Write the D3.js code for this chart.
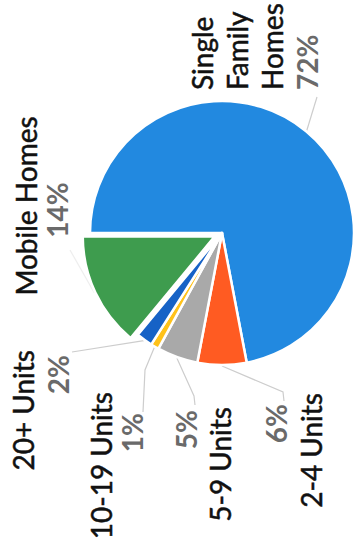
<!DOCTYPE html>
<html>
<head>
<meta charset="utf-8">
<script src="https://cdn.jsdelivr.net/npm/d3@7/dist/d3.min.js"></script>
<style>
  body { margin: 0; background: #fff; }
  svg { display: block; }
  .name { font-family: Lato, "Open Sans", sans-serif; font-size: 28px; fill: #111; stroke: #111; stroke-width: 0.5px; }
  .pct { font-family: Lato, "Open Sans", sans-serif; font-size: 28px; font-weight: bold; fill: #6a6a6a; }
</style>
</head>
<body>
<svg id="chart" width="359" height="539"></svg>
<script>
// housing types (pie order, clockwise from the left edge)
var categories = ["Single Family Homes", "2-4 Units", "5-9 Units", "10-19 Units", "20+ Units", "Mobile Homes"];
var shares = [72, 6, 5, 1, 2, 14];
var pctLabels = ["72%", "6%", "5%", "1%", "2%", "14%"];
var nameLines = [["Single", "Family", "Homes"], ["2-4 Units"], ["5-9 Units"], ["10-19 Units"], ["20+ Units"], ["Mobile Homes"]];
var pctFirst = [false, true, true, false, false, false];

var colors = ["#2289e0", "#ff5b22", "#a9a9a9", "#ffc21a", "#1662c6", "#3e9c4e"];
var exploded = [0, 0, 0, 0, 0, 8];

// chart is drawn turned a quarter turn, labels read bottom to top
var cx = 222, cy = 233, radius = 132;

// label layout: baseline x of each line, anchor y of each line
var labelLayout = [
  {anchor: "start", xs: [213, 248, 283, 318], ys: [90, 90, 90, 90], leader: [[317, 97]]},
  {anchor: "end", xs: [287, 322], ys: [404, 393], leader: [[283, 392], [284, 401]]},
  {anchor: "end", xs: [197, 231], ys: [410, 407], leader: [[194, 396], [195, 405]]},
  {anchor: "end", xs: [112, 143], ys: [392, 413], leader: [[145, 370], [143, 412]]},
  {anchor: "end", xs: [34, 69], ys: [350, 355], leader: [[72, 352]]},
  {anchor: "middle", xs: [37, 68], ys: [206, 210], leader: [[70, 250]]}
];

var svg = d3.select("#chart");

var pie = d3.pie()
    .sort(null)
    .startAngle(-Math.PI / 2)
    .endAngle(3 * Math.PI / 2)
    .value(function(d) { return d; });

var arcs = pie(shares);

var arc = d3.arc().innerRadius(0).outerRadius(radius);
var edgeArc = d3.arc().innerRadius(radius + 1).outerRadius(radius + 1);

function offset(d, i) {
  var a = (d.startAngle + d.endAngle) / 2;
  return [exploded[i] * Math.sin(a), -exploded[i] * Math.cos(a)];
}

var g = svg.append("g").attr("transform", "translate(" + cx + "," + cy + ")");

// leader lines
g.selectAll("polyline")
  .data(arcs)
  .enter().append("polyline")
    .attr("points", function(d, i) {
      var o = offset(d, i);
      var p = edgeArc.centroid(d);
      var pts = [[p[0] + o[0], p[1] + o[1]]];
      labelLayout[i].leader.forEach(function(q) { pts.push([q[0] - cx, q[1] - cy]); });
      return pts.map(function(q) { return q.join(","); }).join(" ");
    })
    .attr("fill", "none")
    .attr("stroke", function(d, i) { return i == 5 ? "#eeeeee" : "#cdcdcd"; })
    .attr("stroke-width", 1.2);

// slices
g.selectAll("path")
  .data(arcs)
  .enter().append("path")
    .attr("d", arc)
    .attr("transform", function(d, i) {
      var o = offset(d, i);
      return "translate(" + o[0] + "," + o[1] + ")";
    })
    .attr("fill", function(d, i) { return colors[i]; })
    .attr("stroke", "#fff")
    .attr("stroke-width", 2.5)
    .attr("stroke-linejoin", "round");

// labels
categories.forEach(function(c, i) {
  var lines = nameLines[i].map(function(t) { return {t: t, cls: "name"}; });
  var p = {t: pctLabels[i], cls: "pct"};
  if (pctFirst[i]) lines.unshift(p); else lines.push(p);
  var lay = labelLayout[i];
  lines.forEach(function(l, j) {
    svg.append("text")
      .attr("class", l.cls)
      .attr("text-anchor", lay.anchor)
      .attr("transform", "translate(" + lay.xs[j] + "," + lay.ys[j] + ") rotate(-90)")
      .text(l.t);
  });
});
</script>
</body>
</html>
